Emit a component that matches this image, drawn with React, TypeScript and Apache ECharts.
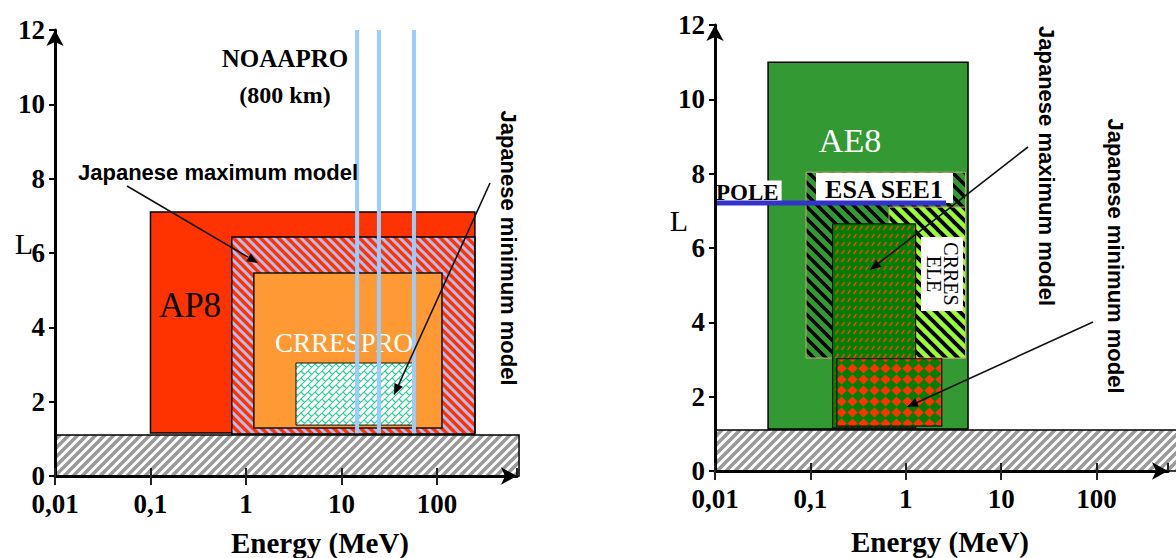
import React, { useEffect, useRef } from 'react';
import * as echarts from 'echarts';

// ---------- data ----------
const energyTickLabels = ['0,01', '0,1', '1', '10', '100'];

// Proton panel (left)
const protonModels = ['AP8', 'Japanese maximum model', 'CRRESPRO', 'Japanese minimum model'];
const protonEMin = [0.1, 0.71, 1.21, 3.34];
const protonEMax = [250, 250, 113, 56];
const protonLMin = [1.16, 1.13, 1.29, 1.37];
const protonLMax = [7.1, 6.43, 5.46, 3.04];
const noaaproEnergies = [14.6, 24.7, 57.5];
const noaaproLRange = [1.15, 12];
const protonGround = [0.01, 725, 0, 1.1];

// Electron panel (right)
const electronModels = ['AE8', 'ESA SEE1', 'CRRES ELE', 'Japanese maximum model', 'Japanese minimum model'];
const electronEMin = [0.036, 0.09, 0.667, 0.171, 0.189];
const electronEMax = [4.49, 4.22, 4.22, 1.27, 2.38];
const electronLMin = [1.13, 3.04, 3.04, 1.16, 1.21];
const electronLMax = [11, 8.04, 7.1, 6.65, 3.02];
const electronGround = [0.01, 1000, 0, 1.1];
const poleEnergy = [0.01, 2.64];
const poleL = 7.21;

// ---------- helpers ----------
const serif = 'Liberation Serif, Times New Roman, serif';
const sans = 'Liberation Sans, Arial, sans-serif';

function makeTile(w: number, h: number, draw: (ctx: CanvasRenderingContext2D) => void) {
  const c = document.createElement('canvas');
  c.width = w;
  c.height = h;
  const ctx = c.getContext('2d') as CanvasRenderingContext2D;
  draw(ctx);
  return { image: c.toDataURL(), repeat: 'repeat', imageWidth: w, imageHeight: h };
}

function stripes(bg: string, fg: string, p: number, lw: number, back: boolean) {
  return makeTile(p, p, (ctx) => {
    ctx.fillStyle = bg;
    ctx.fillRect(0, 0, p, p);
    ctx.strokeStyle = fg;
    ctx.lineWidth = lw;
    ctx.beginPath();
    for (let k = -3; k <= 3; k++) {
      if (back) {
        ctx.moveTo(k * p - p, -p);
        ctx.lineTo(k * p + 2 * p, 2 * p);
      } else {
        ctx.moveTo(k * p - p, 2 * p);
        ctx.lineTo(k * p + 2 * p, -p);
      }
    }
    ctx.stroke();
  });
}

function bricks() {
  return makeTile(14, 14, (ctx) => {
    ctx.fillStyle = '#ffffff';
    ctx.fillRect(0, 0, 14, 14);
    ctx.strokeStyle = '#2ECC99';
    ctx.lineWidth = 1.2;
    ctx.beginPath();
    for (let c = -28; c <= 56; c += 7) {
      ctx.moveTo(c + 14, -14);
      ctx.lineTo(c - 28, 28);
    }
    for (let n = -8; n <= 12; n++) {
      const s = 7 * n;
      for (let m = -4; m <= 4; m++) {
        const t = 7 * n + 14 * m;
        ctx.moveTo((s + t) / 2, (s - t) / 2);
        ctx.lineTo((s + 7 + t) / 2, (s + 7 - t) / 2);
      }
    }
    ctx.stroke();
  });
}

function dashes() {
  return makeTile(6, 8, (ctx) => {
    ctx.fillStyle = '#008000';
    ctx.fillRect(0, 0, 6, 8);
    ctx.strokeStyle = '#FF4400';
    ctx.lineWidth = 1.3;
    ctx.beginPath();
    ctx.moveTo(1.5, 6);
    ctx.lineTo(4.5, 2);
    ctx.stroke();
  });
}

function diamonds() {
  return makeTile(11, 11, (ctx) => {
    ctx.fillStyle = '#008000';
    ctx.fillRect(0, 0, 11, 11);
    ctx.fillStyle = '#FF3300';
    ctx.beginPath();
    ctx.moveTo(5.5, 0.4);
    ctx.lineTo(10.6, 5.5);
    ctx.lineTo(5.5, 10.6);
    ctx.lineTo(0.4, 5.5);
    ctx.closePath();
    ctx.fill();
  });
}

function rectRender(styles: any[]) {
  return (params: any, api: any) => {
    const a = api.coord([api.value(0), api.value(3)]);
    const b = api.coord([api.value(1), api.value(2)]);
    const s = styles[params.dataIndex];
    return {
      type: 'rect',
      shape: { x: a[0], y: a[1], width: b[0] - a[0], height: b[1] - a[1] },
      style: { fill: s.fill, stroke: s.stroke, lineWidth: s.lineWidth },
    };
  };
}

function txt(text: string, x: number, y: number, font: string, fill = '#000', rotation = 0, extra: any = {}, z = 10) {
  return {
    type: 'text',
    x,
    y,
    z,
    rotation,
    style: {
      text,
      font,
      fill,
      textAlign: 'center',
      textVerticalAlign: 'middle',
      align: 'center',
      verticalAlign: 'middle',
      ...extra,
    },
  };
}

function arrow(x1: number, y1: number, x2: number, y2: number) {
  const dx = x2 - x1;
  const dy = y2 - y1;
  const len = Math.hypot(dx, dy);
  const ux = dx / len;
  const uy = dy / len;
  const hl = 11;
  const hw = 4.5;
  const bx = x2 - ux * hl;
  const by = y2 - uy * hl;
  return [
    { type: 'line', z: 10, shape: { x1, y1, x2: bx, y2: by }, style: { stroke: '#111', lineWidth: 1.6 } },
    {
      type: 'polygon',
      z: 10,
      shape: { points: [[x2, y2], [bx - uy * hw, by + ux * hw], [bx + uy * hw, by - ux * hw]] },
      style: { fill: '#000' },
    },
  ];
}

function energyLabel(v: number) {
  const e = Math.log10(v);
  const r = Math.round(e);
  if (Math.abs(e - r) > 1e-6) return '';
  return energyTickLabels[r + 2] ?? '';
}

function xAxes(gridIndex: number, max: number) {
  const common = {
    type: 'log',
    logBase: 10,
    gridIndex,
    min: 0.01,
    max,
    position: 'bottom',
    z: 10,
    splitLine: { show: false },
  };
  return [
    {
      ...common,
      axisLine: {
        show: true,
        lineStyle: { color: '#000', width: 3 },
        symbol: ['none', 'arrow'],
        symbolSize: [13, 16],
      },
      axisTick: { show: true, length: 9, lineStyle: { color: '#222', width: 2 } },
      axisLabel: {
        show: true,
        margin: 14,
        fontFamily: serif,
        fontWeight: 'bold',
        fontSize: 27,
        color: '#000',
        showMaxLabel: false,
        formatter: energyLabel,
      },
    },
    {
      ...common,
      axisLine: { show: false },
      axisTick: { show: true, inside: true, length: 8, lineStyle: { color: '#222', width: 2 } },
      axisLabel: { show: false },
    },
  ];
}

function yAxis(gridIndex: number) {
  return {
    type: 'value',
    gridIndex,
    min: 0,
    max: 12,
    interval: 2,
    z: 10,
    axisLine: {
      show: true,
      lineStyle: { color: '#000', width: 3 },
      symbol: ['none', 'arrow'],
      symbolSize: [13, 16],
    },
    axisTick: { show: true, length: 6, lineStyle: { color: '#000', width: 2 } },
    axisLabel: { margin: 10, fontFamily: serif, fontWeight: 'bold', fontSize: 27, color: '#000' },
    splitLine: { show: false },
  };
}

function buildOption() {
  const groundFill = stripes('#ffffff', '#9a9a9a', 9, 3.5, false);

  const protonStyles = [
    { fill: '#FF3300', stroke: '#000', lineWidth: 1.5 },
    { fill: stripes('#FF3300', '#B4BCF0', 9, 3, true), stroke: '#000', lineWidth: 1.5 },
    { fill: '#FF9933', stroke: '#111', lineWidth: 1.5 },
    { fill: bricks(), stroke: '#111', lineWidth: 1 },
  ];
  const electronStyles = [
    { fill: '#339933', stroke: '#000', lineWidth: 1.5 },
    { fill: stripes('#339933', '#000', 12, 3.5, true), stroke: '#C8A878', lineWidth: 1 },
    { fill: stripes('#99FF33', '#000', 12, 4, true), stroke: '#C8A878', lineWidth: 1 },
    { fill: dashes(), stroke: '#000', lineWidth: 1 },
    { fill: diamonds(), stroke: '#111', lineWidth: 1.2 },
  ];

  const protonData = protonModels.map((name, i) => ({
    name,
    value: [protonEMin[i], protonEMax[i], protonLMin[i], protonLMax[i]],
  }));
  const electronData = electronModels.map((name, i) => ({
    name,
    value: [electronEMin[i], electronEMax[i], electronLMin[i], electronLMax[i]],
  }));
  const noaaData = noaaproEnergies.map((e) => [e, noaaproLRange[0], noaaproLRange[1]]);

  const groundStyle = [{ fill: groundFill, stroke: '#000', lineWidth: 1.5 }];

  const graphics: any[] = [
    // left panel labels
    txt('L', 24, 243, `30px ${serif}`),
    txt('AP8', 190, 305, `35px ${serif}`, '#000', 0, {}, 3),
    txt('CRRESPRO', 344, 343, `27px ${serif}`, '#ffffff', 0, {}, 3),
    txt('NOAAPRO', 285, 58, `bold 25px ${serif}`),
    txt('(800 km)', 285, 95, `bold 24px ${serif}`),
    txt('Japanese maximum model', 218, 172, `bold 22px ${sans}`),
    txt('Japanese minimum model', 508, 248, `bold 22px ${sans}`, '#000', -Math.PI / 2),
    ...arrow(127, 186, 258, 263),
    ...arrow(490, 183, 394, 395),
    txt('Energy (MeV)', 320, 543, `bold 29px ${serif}`),
    // right panel labels
    txt('L', 679, 220, `30px ${serif}`),
    txt('AE8', 850, 140, `34px ${serif}`, '#ffffff', 0, {}, 3),
    { type: 'rect', z: 3, shape: { x: 816, y: 173, width: 137, height: 30 }, style: { fill: '#ffffff' } },
    txt('ESA SEE1', 884, 189, `bold 26px ${serif}`, '#000', 0, {}, 3),
    { type: 'rect', z: 3, shape: { x: 921, y: 237, width: 42, height: 74 }, style: { fill: '#ffffff' } },
    txt('CRRES\nELE', 942, 274, `20px ${serif}`, '#000', -Math.PI / 2, { lineHeight: 17 }, 3),
    {
      type: 'text',
      x: 715,
      y: 192,
      z: 3,
      style: {
        text: 'POLE',
        font: `bold 23px ${serif}`,
        fill: '#000',
        textAlign: 'left',
        align: 'left',
        textVerticalAlign: 'middle',
        verticalAlign: 'middle',
        backgroundColor: '#ffffff',
        padding: [0, 3, 0, 1],
      },
    },
    txt('Japanese maximum model', 1046, 166, `bold 22px ${sans}`, '#000', -Math.PI / 2),
    txt('Japanese minimum model', 1115, 256, `bold 22px ${sans}`, '#000', -Math.PI / 2),
    ...arrow(1028, 147, 870, 270),
    ...arrow(1093, 322, 907, 407),
    txt('Energy (MeV)', 940, 542, `bold 29px ${serif}`),
  ];

  return {
    animation: false,
    backgroundColor: '#ffffff',
    grid: [
      { left: 55, top: 30, width: 462, height: 446 },
      { left: 715, top: 25, width: 453, height: 446 },
    ],
    xAxis: [...xAxes(0, 690), ...xAxes(1, 560)],
    yAxis: [yAxis(0), yAxis(1)],
    series: [
      {
        type: 'custom',
        name: 'ground-p',
        xAxisIndex: 0,
        yAxisIndex: 0,
        clip: false,
        encode: { x: [0, 1], y: [2, 3] },
        data: [protonGround],
        renderItem: rectRender(groundStyle),
        z: 2,
      },
      {
        type: 'custom',
        name: 'protons',
        xAxisIndex: 0,
        yAxisIndex: 0,
        encode: { x: [0, 1], y: [2, 3] },
        data: protonData,
        renderItem: rectRender(protonStyles),
        z: 2,
      },
      {
        type: 'custom',
        name: 'NOAAPRO',
        xAxisIndex: 0,
        yAxisIndex: 0,
        encode: { x: 0, y: [1, 2] },
        data: noaaData,
        z: 5,
        renderItem: (params: any, api: any) => {
          const a = api.coord([api.value(0), api.value(2)]);
          const b = api.coord([api.value(0), api.value(1)]);
          return {
            type: 'line',
            shape: { x1: a[0], y1: a[1], x2: b[0], y2: b[1] },
            style: { stroke: '#99CCFF', lineWidth: 4 },
          };
        },
      },
      {
        type: 'custom',
        name: 'ground-e',
        xAxisIndex: 2,
        yAxisIndex: 1,
        clip: false,
        encode: { x: [0, 1], y: [2, 3] },
        data: [electronGround],
        renderItem: rectRender(groundStyle),
        z: 2,
      },
      {
        type: 'custom',
        name: 'electrons',
        xAxisIndex: 2,
        yAxisIndex: 1,
        encode: { x: [0, 1], y: [2, 3] },
        data: electronData,
        renderItem: rectRender(electronStyles),
        z: 2,
      },
      {
        type: 'line',
        name: 'POLE',
        xAxisIndex: 2,
        yAxisIndex: 1,
        data: poleEnergy.map((e) => [e, poleL]),
        symbol: 'none',
        lineStyle: { color: '#3333CC', width: 5 },
        z: 4,
      },
    ],
    graphic: { elements: graphics },
  };
}

export default function App() {
  const ref = useRef<HTMLDivElement>(null);
  useEffect(() => {
    if (!ref.current) return;
    const chart = echarts.init(ref.current, null, { renderer: 'svg' });
    chart.setOption(buildOption() as any);
    return () => chart.dispose();
  }, []);
  return (
    <div
      ref={ref}
      style={{ position: 'absolute', left: 0, top: 0, width: 1176, height: 558, background: '#fff' }}
    />
  );
}
